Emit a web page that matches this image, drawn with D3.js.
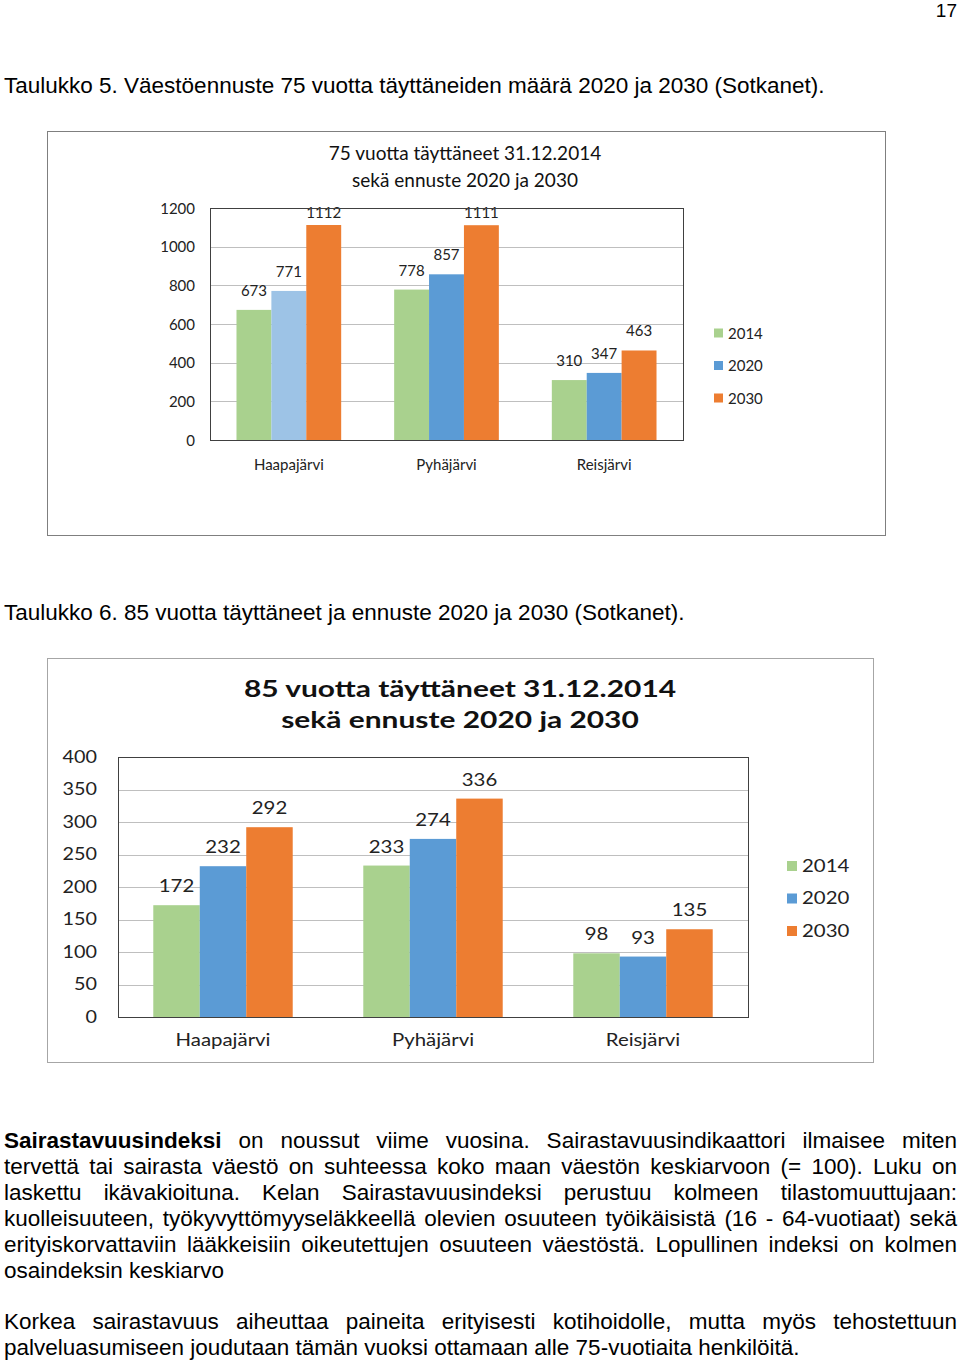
<!DOCTYPE html>
<html>
<head>
<meta charset="utf-8">
<script src="https://cdn.jsdelivr.net/npm/d3@7"></script>
<style>
  body { margin: 0; background: #fff; }
  svg { display: block; }
</style>
</head>
<body>
<div id="page"></div>
<script>
// data
const categories = ["Haapajärvi", "Pyhäjärvi", "Reisjärvi"];
const years = ["2014", "2020", "2030"];

const age75_2014 = [673, 778, 310];
const age75_2020 = [771, 857, 347];
const age75_2030 = [1112, 1111, 463];
const ticks75 = [0, 200, 400, 600, 800, 1000, 1200];

const age85_2014 = [172, 233, 98];
const age85_2020 = [232, 274, 93];
const age85_2030 = [292, 336, 135];
const ticks85 = [0, 50, 100, 150, 200, 250, 300, 350, 400];

const colors = {"2014": "#A9D18E", "2020": "#5B9BD5", "2030": "#ED7D31"};

const svg = d3.select("#page").append("svg")
    .attr("width", 960)
    .attr("height", 1360);

svg.append("rect").attr("width", 960).attr("height", 1360).attr("fill", "#fff");

const bodyFont = "'Liberation Sans', Arial, sans-serif";
const bodySize = 22.5;

// page number + captions
svg.append("text")
    .attr("x", 957).attr("y", 17)
    .attr("text-anchor", "end")
    .style("font", `19px ${bodyFont}`)
    .text("17");

svg.append("text")
    .attr("x", 4).attr("y", 93)
    .style("font", `${bodySize}px ${bodyFont}`)
    .text("Taulukko 5. Väestöennuste 75 vuotta täyttäneiden määrä 2020 ja 2030 (Sotkanet).");

svg.append("text")
    .attr("x", 4).attr("y", 620)
    .style("font", `${bodySize}px ${bodyFont}`)
    .text("Taulukko 6. 85 vuotta täyttäneet ja ennuste 2020 ja 2030 (Sotkanet).");

function drawChart(cfg) {
    const g = svg.append("g");

    // helper so horizontally stretched text keeps its anchor point
    const place = (sel, x, y, s) => sel.attr("transform", `translate(${x},${y}) scale(${s},1)`);

    g.append("rect")
        .attr("x", cfg.frame[0] + 0.5).attr("y", cfg.frame[1] + 0.5)
        .attr("width", cfg.frame[2]).attr("height", cfg.frame[3])
        .attr("fill", "#fff")
        .attr("stroke", cfg.frameColor);

    const x0 = d3.scaleBand()
        .domain(categories)
        .range([cfg.plot.left, cfg.plot.right])
        .paddingInner(0.336)
        .paddingOuter(0.168);

    const x1 = d3.scaleBand()
        .domain(years)
        .range([0, x0.bandwidth()]);

    const y = d3.scaleLinear()
        .domain([0, d3.max(cfg.ticks)])
        .range([cfg.plot.bottom, cfg.plot.top]);

    // gridlines
    g.selectAll(".grid")
        .data(cfg.ticks.filter(t => t > 0 && t < d3.max(cfg.ticks)))
        .join("line")
        .attr("x1", cfg.plot.left).attr("x2", cfg.plot.right)
        .attr("y1", d => Math.round(y(d)) + 0.5).attr("y2", d => Math.round(y(d)) + 0.5)
        .attr("stroke", "#BFBFBF");

    // y tick labels
    g.selectAll(".ytick")
        .data(cfg.ticks)
        .join("text")
        .attr("text-anchor", "end")
        .style("font", cfg.tickFont)
        .style("fill", "#222")
        .each(function (d) { place(d3.select(this), cfg.tickRight, y(d) + 5.5, cfg.stretch); })
        .text(d => d);

    const rows = [];
    categories.forEach((c, i) => {
        years.forEach((yr, j) => {
            rows.push({cat: c, year: yr, value: cfg.series[j][i], idx: i});
        });
    });

    g.selectAll(".bar")
        .data(rows)
        .join("rect")
        .attr("x", d => x0(d.cat) + x1(d.year))
        .attr("width", x1.bandwidth())
        .attr("y", d => y(d.value))
        .attr("height", d => y(0) - y(d.value))
        .attr("fill", d => (cfg.fillFor ? cfg.fillFor(d) : null) || colors[d.year]);

    g.selectAll(".val")
        .data(rows)
        .join("text")
        .attr("text-anchor", "middle")
        .style("font", cfg.labelFont)
        .style("fill", "#222")
        .each(function (d) {
            const cx = x0(d.cat) + x1(d.year) + x1.bandwidth() / 2;
            const cy = Math.max(y(d.value) - cfg.labelGap, cfg.plot.top + 10);
            place(d3.select(this), cx, cy, cfg.stretch);
        })
        .text(d => d.value);

    // plot area border
    g.append("rect")
        .attr("x", cfg.plot.left + 0.5).attr("y", cfg.plot.top + 0.5)
        .attr("width", cfg.plot.right - cfg.plot.left)
        .attr("height", cfg.plot.bottom - cfg.plot.top)
        .attr("fill", "none")
        .attr("stroke", "#404040");

    // category labels
    g.selectAll(".cat")
        .data(categories)
        .join("text")
        .attr("text-anchor", "middle")
        .style("font", cfg.labelFont)
        .style("fill", "#222")
        .each(function (d) { place(d3.select(this), x0(d) + x0.bandwidth() / 2, cfg.catY, cfg.stretch); })
        .text(d => d);

    // title
    cfg.title.forEach((t, i) => {
        const tt = g.append("text")
            .attr("text-anchor", "middle")
            .style("font", cfg.titleFont)
            .style("fill", "#111")
            .text(t);
        place(tt, cfg.titleX, cfg.titleY + i * cfg.titleStep, cfg.titleStretch);
    });

    // legend
    years.forEach((yr, i) => {
        const ly = cfg.legend.y + i * cfg.legend.step;
        g.append("rect")
            .attr("x", cfg.legend.x).attr("y", ly - cfg.legend.sw / 2)
            .attr("width", cfg.legend.sw).attr("height", cfg.legend.sw)
            .attr("fill", colors[yr]);
        const lt = g.append("text")
            .style("font", cfg.labelFont)
            .style("fill", "#222")
            .text(yr);
        place(lt, cfg.legend.x + cfg.legend.sw + 5, ly + 5.5, cfg.stretch);
    });
}

drawChart({
    frame: [47, 131, 838, 404],
    frameColor: "#7F7F7F",
    plot: {left: 210, right: 683, top: 208, bottom: 440},
    ticks: ticks75,
    series: [age75_2014, age75_2020, age75_2030],
    // the 2020 bar of the first group is drawn lighter in the original
    fillFor: d => (d.year === "2020" && d.idx === 0) ? "#9DC3E6" : null,
    stretch: 1,
    titleStretch: 1,
    tickRight: 195,
    tickFont: "15px Lato, 'Open Sans', sans-serif",
    labelFont: "15px Lato, 'Open Sans', sans-serif",
    titleFont: "19px Lato, 'Open Sans', sans-serif",
    title: ["75 vuotta täyttäneet 31.12.2014", "sekä ennuste 2020 ja 2030"],
    titleX: 465, titleY: 160, titleStep: 27,
    labelGap: 14,
    catY: 470,
    legend: {x: 714, y: 333, step: 32.5, sw: 9}
});

drawChart({
    frame: [47, 658, 826, 404],
    frameColor: "#A6A6A6",
    plot: {left: 118, right: 748, top: 757, bottom: 1017},
    ticks: ticks85,
    series: [age85_2014, age85_2020, age85_2030],
    stretch: 1.2,
    titleStretch: 1.36,
    tickRight: 97,
    tickFont: "16.5px Lato, 'Open Sans', sans-serif",
    labelFont: "17px Lato, 'Open Sans', sans-serif",
    titleFont: "bold 22px Lato, 'Open Sans', sans-serif",
    title: ["85 vuotta täyttäneet 31.12.2014", "sekä ennuste 2020 ja 2030"],
    titleX: 460, titleY: 697, titleStep: 31,
    labelGap: 13,
    catY: 1046,
    legend: {x: 787, y: 866, step: 32.5, sw: 10}
});

// body text, justified line by line like the original
const para1 = [
    [["Sairastavuusindeksi", true], [" on noussut viime vuosina. Sairastavuusindikaattori ilmaisee miten", false]],
    [["tervettä tai sairasta väestö on suhteessa koko maan väestön keskiarvoon (= 100). Luku on", false]],
    [["laskettu ikävakioituna. Kelan Sairastavuusindeksi perustuu kolmeen tilastomuuttujaan:", false]],
    [["kuolleisuuteen, työkyvyttömyyseläkkeellä olevien osuuteen työikäisistä (16 - 64-vuotiaat) sekä", false]],
    [["erityiskorvattaviin lääkkeisiin oikeutettujen osuuteen väestöstä. Lopullinen indeksi on kolmen", false]],
    [["osaindeksin keskiarvo", false]]
];
const para2 = [
    [["Korkea sairastavuus aiheuttaa paineita erityisesti kotihoidolle, mutta myös tehostettuun", false]],
    [["palveluasumiseen joudutaan tämän vuoksi ottamaan alle 75-vuotiaita henkilöitä.", false]]
];

function drawPara(lines, top) {
    lines.forEach((parts, i) => {
        const t = svg.append("text")
            .attr("x", 4)
            .attr("y", top + i * 26)
            .style("font", `${bodySize}px ${bodyFont}`)
            .style("fill", "#000");
        parts.forEach(([s, bold]) => {
            t.append("tspan").style("font-weight", bold ? "bold" : "normal").text(s);
        });
        if (i < lines.length - 1) {
            const full = parts.map(p => p[0]).join("");
            const spaces = (full.match(/ /g) || []).length;
            const w = t.node().getComputedTextLength();
            if (spaces > 0) t.style("word-spacing", `${(953 - w) / spaces}px`);
        }
    });
}

drawPara(para1, 1148);
drawPara(para2, 1329);
</script>
</body>
</html>
